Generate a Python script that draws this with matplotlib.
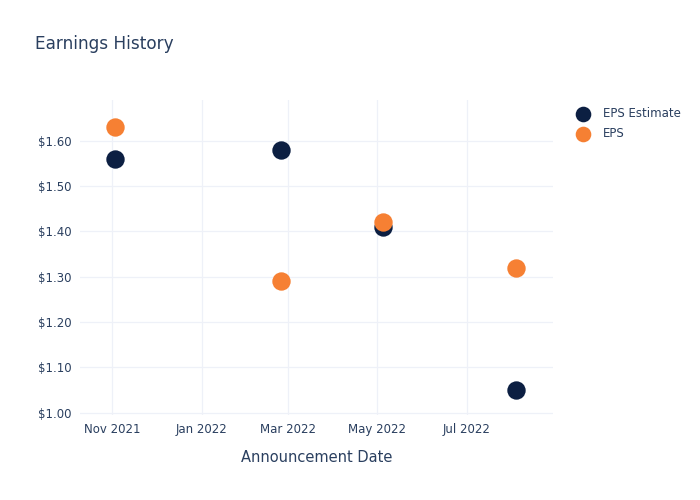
import matplotlib
matplotlib.use("Agg")
import matplotlib.pyplot as plt
import matplotlib.dates as mdates
import numpy as np
from datetime import datetime

dates = ["2021-11-03", "2022-02-24", "2022-05-05", "2022-08-04"]
eps_estimate = [1.56, 1.58, 1.41, 1.05]
eps_actual = [1.63, 1.29, 1.42, 1.32]
series_names = ["EPS Estimate", "EPS"]
x_ticks = ["2021-11-01", "2022-01-01", "2022-03-01", "2022-05-01", "2022-07-01"]
x_tick_labels = ["Nov 2021", "Jan 2022", "Mar 2022", "May 2022", "Jul 2022"]
y_ticks = [1.0, 1.1, 1.2, 1.3, 1.4, 1.5, 1.6]

txt = "#2a3f5f"
grid = "#eef1f8"
navy = "#0c1f42"
orange = "#f68033"

d = [datetime.fromisoformat(s) for s in dates]
fig = plt.figure(figsize=(7, 5), dpi=100)
ax = fig.add_axes([80/700, 1 - 415/500, (553-80)/700, (415-100)/500])
ax.scatter(d, eps_estimate, s=175, color=navy, label=series_names[0], zorder=3, linewidths=0)
ax.scatter(d, eps_actual, s=175, color=orange, label=series_names[1], zorder=3, linewidths=0)

ax.set_xlim(datetime(2021, 10, 10), datetime(2022, 8, 29))
ax.set_ylim(0.995, 1.69)
ax.set_xticks([datetime.fromisoformat(s) for s in x_ticks])
ax.set_xticklabels(x_tick_labels)
ax.set_yticks(y_ticks)
ax.set_yticklabels([f"${v:.2f}" for v in y_ticks])
ax.tick_params(length=0, labelsize=8.5, labelcolor=txt, pad=6)
ax.grid(True, color=grid, linewidth=0.9)
ax.set_axisbelow(True)
for sp in ax.spines.values():
    sp.set_visible(False)
ax.set_xlabel("Announcement Date", color=txt, fontsize=10.5, labelpad=10)

fig.text(35/700, 1 - 44/500, "Earnings History", color=txt, fontsize=12.2, va="center", ha="left")
leg = fig.legend(loc="upper left", bbox_to_anchor=(571/700, 1 - 107/500), frameon=False,
                 fontsize=8.5, labelcolor=txt, handletextpad=0.7, borderaxespad=0,
                 labelspacing=0.62, borderpad=0, markerscale=0.85)
fig.savefig("out.png", dpi=100, facecolor="white")
